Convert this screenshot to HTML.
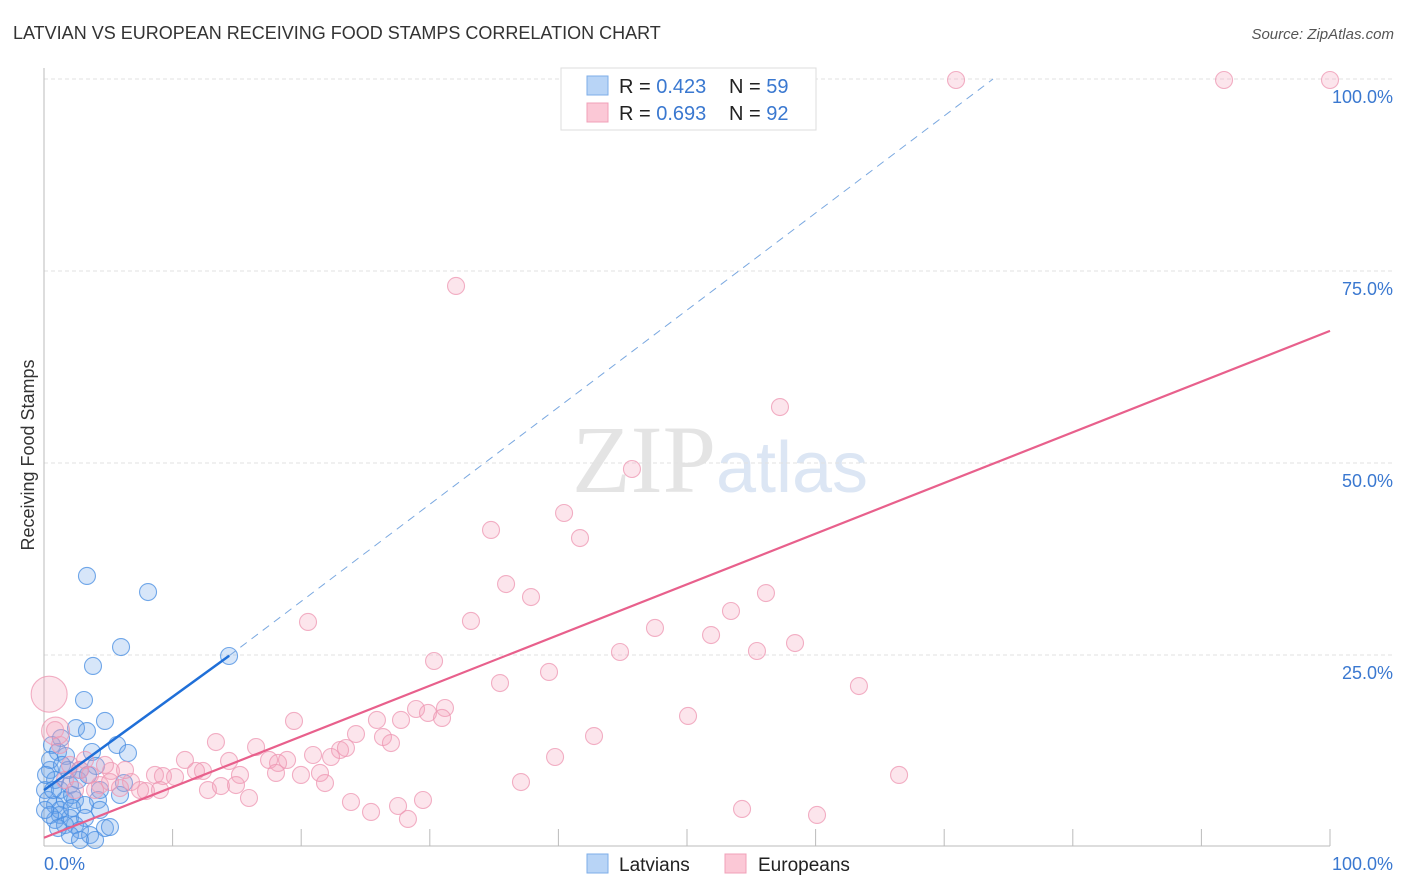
<!DOCTYPE html>
<html><head><meta charset="utf-8"><style>
body{margin:0;background:#fff;font-family:"Liberation Sans",sans-serif;}
svg{display:block}
</style></head><body>
<svg width="1406" height="892">
<text x="13" y="39" font-size="18" fill="#333">LATVIAN VS EUROPEAN RECEIVING FOOD STAMPS CORRELATION CHART</text>
<text x="1394" y="39" font-size="15" fill="#555" font-style="italic" text-anchor="end">Source: ZipAtlas.com</text>
<text x="720" y="492" font-size="96" fill="#e4e4e4" text-anchor="middle" font-family="Liberation Serif">ZIP<tspan fill="#dce6f4" font-family="Liberation Sans" font-size="72">atlas</tspan></text>
<g id="grid"></g>
<line x1="44" y1="68" x2="44" y2="846" stroke="#bbb"/>
<line x1="44" y1="846" x2="1330" y2="846" stroke="#bbb"/>
<g id="xticks"></g>
<text x="34" y="455" font-size="18" fill="#333" text-anchor="middle" transform="rotate(-90 34 455)">Receiving Food Stamps</text>
<text x="44" y="870" font-size="18" fill="#3a78d0">0.0%</text>
<text x="1393" y="870" font-size="18" fill="#3a78d0" text-anchor="end">100.0%</text>
<g id="pts"></g>
<g id="lines"></g>
<g>
<rect x="561" y="68" width="255" height="62" fill="#fff" stroke="#ddd"/>
<rect x="587" y="76" width="21" height="19" fill="#b8d4f6" stroke="#7eaee8"/>
<rect x="587" y="103" width="21" height="19" fill="#fbc8d6" stroke="#f0a0b8"/>
<text x="619" y="93" font-size="20" fill="#222">R = <tspan fill="#3a78d0">0.423</tspan></text>
<text x="729" y="93" font-size="20" fill="#222">N = <tspan fill="#3a78d0">59</tspan></text>
<text x="619" y="120" font-size="20" fill="#222">R = <tspan fill="#3a78d0">0.693</tspan></text>
<text x="729" y="120" font-size="20" fill="#222">N = <tspan fill="#3a78d0">92</tspan></text>
</g>
<g>
<rect x="587" y="854" width="21" height="19" fill="#b8d4f6" stroke="#7eaee8"/>
<text x="619" y="871" font-size="19" fill="#222">Latvians</text>
<rect x="725" y="854" width="21" height="19" fill="#fbc8d6" stroke="#f0a0b8"/>
<text x="758" y="871" font-size="19" fill="#222">Europeans</text>
</g>
</svg>
<script>
const yTicks=[25,50,75,100];
const xTickVals=[10,20,30,40,50,60,70,80,90,100];
const bluePx=[[87,576],[148,592],[121,647],[229,656],[93,666],[84,700],[105,721],[76,728],[87,731],[117,745],[61,738],[128,753],[92,752],[96,766],[124,783],[52,745],[58,752],[66,756],[50,770],[55,780],[45,790],[60,790],[70,785],[78,780],[100,790],[120,795],[48,800],[55,805],[65,800],[75,800],[98,800],[50,760],[68,770],[80,770],[62,765],[88,775],[46,775],[53,790],[72,795],[85,805],[60,815],[70,818],[85,818],[55,820],[75,825],[65,825],[80,830],[105,828],[110,827],[100,810],[70,835],[90,835],[80,840],[95,840],[60,810],[50,815],[45,810],[72,808],[58,828]];
const pinkPx=[[956,80],[1224,80],[1330,80],[456,286],[780,407],[632,469],[564,513],[491,530],[580,538],[506,584],[531,597],[731,611],[766,593],[308,622],[471,621],[655,628],[711,635],[795,643],[620,652],[757,651],[434,661],[549,672],[500,683],[859,686],[688,716],[294,721],[377,720],[401,720],[416,709],[428,713],[445,708],[442,718],[594,736],[216,742],[340,750],[356,734],[383,737],[391,743],[256,747],[185,760],[229,761],[203,771],[269,760],[278,763],[287,760],[313,755],[331,757],[346,748],[555,757],[155,775],[163,776],[175,777],[196,771],[240,775],[276,773],[301,775],[320,773],[111,771],[131,782],[146,791],[208,790],[221,786],[236,785],[249,798],[325,783],[521,782],[899,775],[351,802],[371,812],[398,806],[408,819],[423,800],[742,809],[817,815],[55,730],[60,745],[70,765],[80,770],[90,775],[100,785],[110,782],[120,788],[75,790],[65,780],[85,760],[95,790],[140,790],[160,790],[125,770],[105,765]];
const latviansX=bluePx.map(p=>+((p[0]-44)/12.86).toFixed(2));
const latviansY=bluePx.map(p=>+((847-p[1])/7.68).toFixed(2));
const europeansX=pinkPx.map(p=>+((p[0]-44)/12.86).toFixed(2));
const europeansY=pinkPx.map(p=>+((847-p[1])/7.68).toFixed(2));
const bigEuropeansX=[0.4,0.9];
const bigEuropeansY=[19.9,15.1];
const blueLine=[[0,7.4],[14.4,24.9]];
const blueDash=[[14.4,24.9],[73.8,100]];
const pinkLine=[[0,1.2],[100,67.2]];
const NS='http://www.w3.org/2000/svg';
const sx=v=>44+v*12.86, sy=v=>847-v*7.68;
function mk(t,a,parent){const e=document.createElementNS(NS,t);for(const k in a)e.setAttribute(k,a[k]);document.getElementById(parent).appendChild(e);return e;}
yTicks.forEach(v=>{
 const l=mk('line',{x1:44,x2:1394,y1:sy(v),y2:sy(v),stroke:'#e2e2e2','stroke-dasharray':'4,3'},'grid');
 
 
 const t=mk('text',{x:1393,y:sy(v)+24,'font-size':18,fill:'#3a78d0','text-anchor':'end'},'grid');
 t.textContent=v.toFixed(1)+'%';
 
 
});
xTickVals.forEach(v=>{
 const l=mk('line',{x1:sx(v),x2:sx(v),y1:829,y2:846,stroke:'#bbb'},'xticks');
 
 
});
latviansX.forEach((x,i)=>{
 const c=mk('circle',{cx:sx(x),cy:sy(latviansY[i]),r:8.5,fill:'rgba(110,165,235,0.28)',stroke:'rgba(70,140,225,0.75)','stroke-width':1.1},'pts');
 
 
});
europeansX.forEach((x,i)=>{
 const c=mk('circle',{cx:sx(x),cy:sy(europeansY[i]),r:8.5,fill:'rgba(245,160,185,0.28)',stroke:'rgba(238,150,178,0.75)','stroke-width':1.1},'pts');
 
 
});
bigEuropeansX.forEach((x,i)=>{
 const c=mk('circle',{cx:sx(x),cy:sy(bigEuropeansY[i]),r:[18,14][i],fill:'rgba(245,160,185,0.28)',stroke:'rgba(238,150,178,0.75)','stroke-width':1.1},'pts');
 
 
});
function ln(p,attrs,name){const l=mk('line',Object.assign({x1:sx(p[0][0]),y1:sy(p[0][1]),x2:sx(p[1][0]),y2:sy(p[1][1])},attrs),'lines');
 
 }
ln(blueDash,{stroke:'#7aa8e0','stroke-width':1,'stroke-dasharray':'8,6'},'latvian-trend-extension');
ln(blueLine,{stroke:'#1f6fd8','stroke-width':2.5},'latvian-trend-line');
ln(pinkLine,{stroke:'#e8608c','stroke-width':2.2},'european-trend-line');
</script>
</body></html>
